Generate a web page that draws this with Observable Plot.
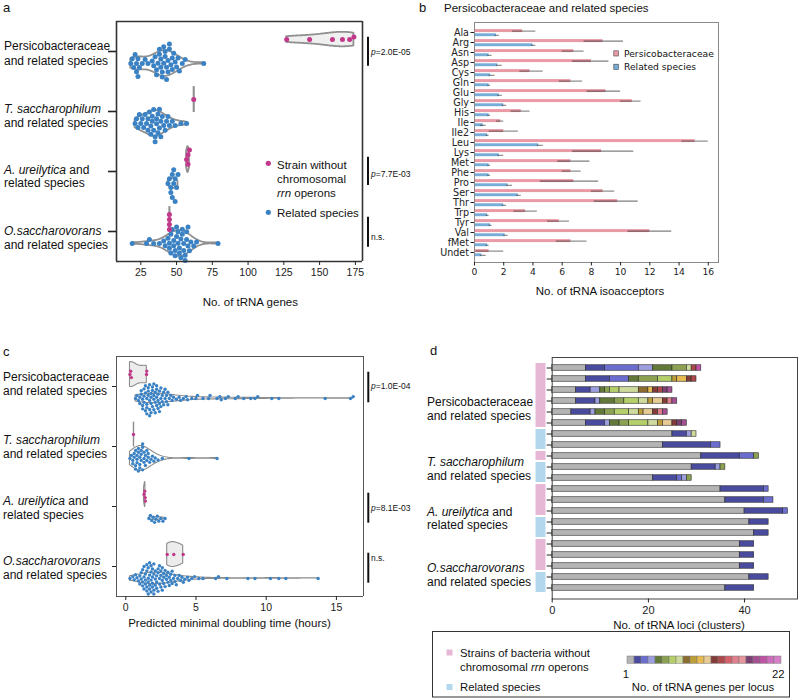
<!DOCTYPE html>
<html>
<head>
<meta charset="utf-8">
<script src="https://cdn.jsdelivr.net/npm/d3@7"></script>
<script src="https://cdn.jsdelivr.net/npm/@observablehq/plot@0.6"></script>
<style>
html,body{margin:0;padding:0;background:#fff;}
#root{position:relative;width:800px;height:698px;overflow:hidden;background:#fff;}
.panel{position:absolute;}
.panel svg{overflow:visible;display:block;}
#ann{position:absolute;left:0;top:0;pointer-events:none;}
#ann text{font-family:"Liberation Sans",Arial,sans-serif;fill:#111;}
</style>
</head>
<body>
<div id="root">
  <div class="panel" id="pa" style="left:0;top:0"></div>
  <div class="panel" id="pb" style="left:400px;top:0"></div>
  <div class="panel" id="pc" style="left:0;top:320px"></div>
  <div class="panel" id="pd" style="left:400px;top:320px"></div>
  <div class="panel" id="pbar" style="left:622.7px;top:656px"></div>
  <svg id="ann" width="800" height="698">
    <text x="3" y="12" font-size="13">a</text>
    <text x="419" y="12" font-size="13">b</text>
    <text x="444" y="11.5" font-size="11.5">Persicobacteraceae and related species</text>
    <text x="3" y="356" font-size="13">c</text>
    <text x="430" y="355" font-size="13">d</text>

    <g font-size="12">
      <text x="4" y="49.5">Persicobacteraceae</text>
      <text x="4" y="64.5">and related species</text>
      <text x="4" y="112.5" font-style="italic">T. saccharophilum</text>
      <text x="4" y="126.5">and related species</text>
      <text x="4" y="173.5"><tspan font-style="italic">A. ureilytica</tspan> and</text>
      <text x="4" y="187">related species</text>
      <text x="4" y="234.5" font-style="italic">O.saccharovorans</text>
      <text x="4" y="248.5">and related species</text>
    </g>
    <g font-size="12">
      <text x="3" y="381">Persicobacteraceae</text>
      <text x="3" y="395">and related species</text>
      <text x="3" y="443.5" font-style="italic">T. saccharophilum</text>
      <text x="3" y="457.5">and related species</text>
      <text x="3" y="504.5"><tspan font-style="italic">A. ureilytica</tspan> and</text>
      <text x="3" y="518.5">related species</text>
      <text x="3" y="565" font-style="italic">O.saccharovorans</text>
      <text x="3" y="579">and related species</text>
    </g>
    <g font-size="12">
      <text x="427" y="405.5">Persicobacteraceae</text>
      <text x="427" y="419.5">and related species</text>
      <text x="427" y="466" font-style="italic">T. saccharophilum</text>
      <text x="427" y="480">and related species</text>
      <text x="427" y="515.5"><tspan font-style="italic">A. ureilytica</tspan> and</text>
      <text x="427" y="529">related species</text>
      <text x="427" y="571.5" font-style="italic">O.saccharovorans</text>
      <text x="427" y="585.5">and related species</text>
    </g>

    <text x="250.3" y="306" font-size="11.5" text-anchor="middle">No. of tRNA genes</text>
    <text x="600" y="295" font-size="11.5" text-anchor="middle">No. of tRNA isoacceptors</text>
    <text x="229.5" y="627" font-size="11.5" text-anchor="middle">Predicted minimal doubling time (hours)</text>
    <text x="679" y="629" font-size="11.5" text-anchor="middle">No. of tRNA loci (clusters)</text>

    <g stroke="#111" stroke-width="2">
      <line x1="368" x2="368" y1="36.7" y2="65.7"/>
      <line x1="368" x2="368" y1="156.7" y2="185"/>
      <line x1="368" x2="368" y1="216.7" y2="246.7"/>
      <line x1="368.3" x2="368.3" y1="371.7" y2="402.3"/>
      <line x1="368.3" x2="368.3" y1="492.7" y2="522.7"/>
      <line x1="368.3" x2="368.3" y1="552.7" y2="582.7"/>
    </g>
    <g font-size="8.5">
      <text x="371" y="55.3"><tspan font-style="italic">p</tspan>=2.0E-05</text>
      <text x="371" y="177"><tspan font-style="italic">p</tspan>=7.7E-03</text>
      <text x="371" y="239.5">n.s.</text>
      <text x="371" y="388.7"><tspan font-style="italic">p</tspan>=1.0E-04</text>
      <text x="371" y="510.7"><tspan font-style="italic">p</tspan>=8.1E-03</text>
      <text x="371" y="561.3">n.s.</text>
    </g>

    <circle cx="268.3" cy="163.3" r="2.6" fill="#c2388a"/>
    <circle cx="268.3" cy="212.3" r="2.6" fill="#3b82c4"/>
    <g font-size="11.5">
      <text x="277" y="169">Strain without</text>
      <text x="277" y="183">chromosomal</text>
      <text x="277" y="197"><tspan font-style="italic">rrn</tspan> operons</text>
      <text x="277" y="217">Related species</text>
    </g>

    <rect x="613.8" y="50.8" width="4.6" height="5.2" fill="#e99aa6" stroke="#444" stroke-width="0.6"/>
    <rect x="613.8" y="64.2" width="4.6" height="5.2" fill="#76acd8" stroke="#444" stroke-width="0.6"/>
    <text x="624" y="56.8" font-size="9.2" style="font-family:'DejaVu Sans'">Persicobacteraceae</text>
    <text x="624" y="70.2" font-size="9.2" style="font-family:'DejaVu Sans'">Related species</text>

    <rect x="432.5" y="631.5" width="357" height="65.5" fill="none" stroke="#333" stroke-width="1"/>
    <rect x="446.5" y="649.5" width="6" height="6" fill="#e6b8d6"/>
    <rect x="446.5" y="684" width="6" height="6" fill="#b3d8ee"/>
    <g font-size="11.3">
      <text x="460" y="657">Strains of bacteria without</text>
      <text x="460" y="671">chromosomal <tspan font-style="italic">rrn</tspan> operons</text>
      <text x="460" y="691">Related species</text>
      <text x="626" y="678" text-anchor="middle">1</text>
      <text x="784.5" y="678" text-anchor="end">22</text>
      <text x="703" y="691" text-anchor="middle">No. of tRNA genes per locus</text>
    </g>
  </svg>
</div>
<script>
// ---------------- data ----------------
const groups = ["Persicobacteraceae", "T. saccharophilum", "A. ureilytica", "O.saccharovorans"];

// Panel a: number of tRNA genes
const tRNAStrainPersico = [127, 143, 159, 166, 171, 174];
const tRNAStrainTsacch = [62];
const tRNAStrainAureil = [57, 58, 59, 58];
const tRNAStrainOsacch = [45, 45, 45, 45];
const tRNARelatedPersico = [18, 19, 20, 21, 22, 22, 23, 23, 24, 26, 28, 30, 33, 34, 35, 36, 36, 37, 38, 38, 39, 39, 40, 40, 41, 41, 42, 42, 43, 43, 44, 44, 45, 45, 46, 47, 47, 48, 49, 50, 51, 52, 54, 56, 69];
const tRNARelatedTsacch = [21, 22, 23, 24, 25, 26, 27, 28, 29, 30, 30, 31, 32, 32, 33, 33, 34, 34, 35, 35, 36, 36, 37, 37, 38, 38, 39, 39, 40, 41, 42, 43, 44, 45, 47, 49, 53, 57];
const tRNARelatedAureil = [44, 45, 46, 46, 47, 47, 48, 48, 49, 49, 50, 51];
const tRNARelatedOsacch = [19, 29, 31, 34, 38, 41, 42, 44, 45, 45, 46, 46, 47, 48, 48, 49, 49, 50, 50, 51, 51, 52, 52, 53, 53, 54, 54, 55, 55, 56, 56, 57, 57, 58, 58, 59, 60, 62, 64, 79];
const tRNATicks = [25, 50, 75, 100, 125, 150, 175];

// Panel c: predicted minimal doubling time (hours)
const dtStrainPersico = [0.3, 0.35, 0.4, 1.48, 1.5];
const dtStrainTsacch = [0.55];
const dtStrainAureil = [1.3, 1.35, 1.38, 1.4];
const dtStrainOsacch = [2.95, 3.42, 4.09];
const dtRelatedPersico = [0.7, 0.8, 0.9, 1.0, 1.0, 1.1, 1.1, 1.2, 1.2, 1.2, 1.3, 1.3, 1.3, 1.4, 1.4, 1.4, 1.5, 1.5, 1.5, 1.5, 1.6, 1.6, 1.6, 1.7, 1.7, 1.7, 1.7, 1.8, 1.8, 1.8, 1.8, 1.9, 1.9, 1.9, 2.0, 2.0, 2.0, 2.0, 2.1, 2.1, 2.1, 2.2, 2.2, 2.2, 2.2, 2.3, 2.3, 2.3, 2.4, 2.4, 2.4, 2.5, 2.5, 2.5, 2.6, 2.6, 2.7, 2.7, 2.8, 2.8, 2.9, 2.9, 3.0, 3.0, 3.1, 3.2, 3.3, 3.4, 3.6, 3.8, 3.9, 4.1, 4.3, 4.4, 4.7, 5.0, 5.1, 5.5, 5.9, 6.0, 6.5, 6.7, 6.8, 7.1, 7.3, 7.8, 8.0, 8.4, 8.9, 9.2, 9.4, 10.4, 10.9, 14.2, 16.0, 16.2];
const dtRelatedTsacch = [0.3, 0.4, 0.5, 0.5, 0.6, 0.6, 0.7, 0.7, 0.7, 0.8, 0.8, 0.8, 0.9, 0.9, 0.9, 1.0, 1.0, 1.0, 1.1, 1.1, 1.1, 1.2, 1.2, 1.2, 1.3, 1.3, 1.3, 1.4, 1.4, 1.5, 1.5, 1.6, 1.6, 1.7, 1.8, 1.9, 2.0, 2.1, 2.3, 2.6, 4.5, 6.5];
const dtRelatedAureil = [1.65, 1.75, 1.85, 1.95, 2.05, 2.15, 2.25, 2.35, 2.5, 2.65, 2.8];
const dtRelatedOsacch = [0.3, 0.5, 0.6, 0.7, 0.8, 0.9, 1.0, 1.0, 1.1, 1.1, 1.2, 1.2, 1.2, 1.3, 1.3, 1.3, 1.4, 1.4, 1.4, 1.5, 1.5, 1.5, 1.5, 1.6, 1.6, 1.6, 1.6, 1.7, 1.7, 1.7, 1.7, 1.8, 1.8, 1.8, 1.8, 1.9, 1.9, 1.9, 1.9, 2.0, 2.0, 2.0, 2.0, 2.1, 2.1, 2.1, 2.2, 2.2, 2.2, 2.3, 2.3, 2.3, 2.4, 2.4, 2.4, 2.5, 2.5, 2.5, 2.6, 2.6, 2.6, 2.7, 2.7, 2.7, 2.8, 2.8, 2.9, 2.9, 3.0, 3.0, 3.1, 3.1, 3.2, 3.2, 3.3, 3.3, 3.4, 3.5, 3.5, 3.6, 3.7, 3.8, 3.9, 4.0, 4.1, 4.2, 4.4, 4.5, 4.7, 4.9, 5.2, 5.5, 6.4, 6.6, 7.2, 8.7, 9.2, 10.3, 10.9, 11.4, 13.7];
const dtTicks = [0, 5, 10, 15];

// Panel b: tRNA isoacceptors
const aminoAcids = ["Ala", "Arg", "Asn", "Asp", "Cys", "Gln", "Glu", "Gly", "His", "Ile", "Ile2", "Leu", "Lys", "Met", "Phe", "Pro", "Ser", "Thr", "Trp", "Tyr", "Val", "fMet", "Undet"];
const persMean = [3.3, 8.8, 6.8, 8.0, 3.8, 6.6, 9.0, 10.8, 3.2, 1.8, 2.0, 15.1, 8.7, 6.6, 6.6, 6.8, 8.8, 9.8, 3.5, 5.8, 12.0, 6.6, 1.0];
const persLo = [2.6, 7.5, 6.0, 6.7, 3.1, 5.8, 7.7, 10.0, 2.5, 1.5, 1.0, 14.2, 6.7, 5.7, 6.0, 4.5, 8.0, 8.2, 2.7, 5.0, 10.5, 5.6, 0.1];
const persHi = [4.2, 10.2, 7.5, 9.2, 4.7, 7.4, 10.0, 11.4, 3.8, 2.0, 3.0, 16.0, 10.9, 7.9, 7.3, 8.5, 9.6, 11.2, 4.3, 6.5, 13.5, 7.7, 2.0];
const relMean = [1.5, 4.0, 1.0, 1.6, 1.1, 1.0, 1.7, 2.0, 1.0, 0.6, 0.9, 4.4, 1.7, 1.0, 1.0, 2.3, 3.0, 2.0, 0.9, 1.1, 2.1, 0.9, 0.5];
const relLo = [1.4, 3.9, 0.9, 1.5, 1.0, 0.9, 1.6, 1.9, 0.9, 0.4, 0.8, 4.3, 1.6, 0.9, 0.9, 2.2, 2.9, 1.9, 0.8, 1.0, 2.0, 0.8, 0.4];
const relHi = [1.7, 4.2, 1.2, 1.9, 1.4, 1.1, 1.9, 2.2, 1.1, 0.8, 1.0, 4.7, 2.0, 1.1, 1.1, 2.6, 3.2, 2.2, 1.0, 1.2, 2.3, 1.0, 0.8];
const isoTicks = [0, 2, 4, 6, 8, 10, 12, 14, 16];

// Panel d: tRNA loci per genome, as [genes per locus, number of loci]
const lociRows = [
  [[1, 7], [2, 4], [3, 7], [4, 3], [5, 4], [6, 3], [8, 1], [14, 1], [20, 1]],
  [[1, 7], [2, 5], [3, 4], [5, 2], [6, 4], [7, 3], [10, 1], [11, 2], [13, 1], [14, 1]],
  [[1, 5], [2, 3], [4, 2], [5, 1], [6, 1], [7, 2], [8, 4], [9, 2], [11, 1], [13, 1], [14, 1], [18, 1], [19, 1]],
  [[1, 5], [2, 4], [4, 1], [5, 3], [6, 2], [7, 3], [8, 2], [10, 1], [12, 2], [13, 1], [16, 1], [19, 1]],
  [[1, 4], [2, 4], [4, 1], [5, 2], [6, 2], [7, 3], [8, 2], [10, 1], [12, 2], [13, 1], [16, 1], [19, 1]],
  [[1, 7], [2, 4], [4, 1], [5, 2], [6, 2], [7, 4], [8, 2], [10, 1], [12, 2], [13, 1], [18, 1], [19, 1]],
  [[1, 25], [2, 3], [4, 1], [8, 1]],
  [[1, 23], [2, 10], [3, 2]],
  [[1, 31], [2, 8], [3, 3], [6, 1]],
  [[1, 29], [2, 5], [4, 1], [6, 1]],
  [[1, 21], [2, 5], [3, 1], [4, 1], [6, 1]],
  [[1, 35], [2, 9], [3, 1]],
  [[1, 36], [2, 8], [3, 2]],
  [[1, 40], [2, 8], [3, 1]],
  [[1, 41], [2, 4]],
  [[1, 42], [2, 3]],
  [[1, 39], [2, 3]],
  [[1, 39], [2, 3]],
  [[1, 39], [2, 3]],
  [[1, 41], [2, 4]],
  [[1, 36], [2, 6]]
];
const lociRowKind = ["s", "s", "s", "s", "s", "s", "r", "r", "s", "r", "r", "s", "s", "s", "r", "r", "s", "s", "s", "r", "r"];
const lociRowGroup = [0, 0, 0, 0, 0, 0, 0, 0, 1, 1, 1, 2, 2, 2, 2, 2, 3, 3, 3, 3, 3];
const lociTicks = [0, 20, 40];
const genesPerLocus = d3.range(1, 23);
const locusColors = ["#b4b4b4", "#4a4b9f", "#6b6ecf", "#9c9ede", "#637939", "#8ca252", "#b5cf6b", "#cedb9c", "#8c6d31", "#bd9e39", "#e7ba52", "#e7cb94", "#843c39", "#ad494a", "#d6616b", "#e0808c", "#e7969c", "#7b4173", "#a55194", "#c052a8", "#ce6dbd", "#d780c8"];

// ---------------- colours ----------------
const dotBlue = "#3b82c4", dotMagenta = "#c2388a";
const barPink = "#e99aa6", barBlue = "#76acd8";
const stripPink = "#e6b8d6", stripBlue = "#b3d8ee";

// ---------------- helpers ----------------
function kde(vals, n = 80) {
  const bw = Math.pow(vals.length, -0.2) * d3.deviation(vals);
  const lo = d3.min(vals), hi = d3.max(vals);
  return d3.range(n + 1).map(i => {
    const x = lo + (hi - lo) * i / n;
    const d = d3.sum(vals, v => Math.exp(-0.5 * ((x - v) / bw) ** 2)) / (vals.length * bw * Math.sqrt(2 * Math.PI));
    return [x, d];
  });
}

function swarmPanel(o) {
  const H = (o.height - o.marginTop - o.marginBottom) / groups.length;
  const yh = H / 2;
  const viol = [], sticks = [];
  groups.forEach((g, gi) => {
    const sets = [{vals: o.strain[gi], off: o.off, kind: "s"}, {vals: o.related[gi], off: -o.off, kind: "r"}];
    const dens = sets.map(s => (s.vals.length > 1 && d3.deviation(s.vals) > 0) ? kde(s.vals) : null);
    const maxD = d3.max(dens.filter(Boolean), d => d3.max(d, p => p[1]));
    sets.forEach((s, k) => {
      if (dens[k]) {
        for (const [x, d] of dens[k]) viol.push({g, id: g + s.kind, kind: s.kind, x, y1: s.off - o.halfW * d / maxD, y2: s.off + o.halfW * d / maxD});
      } else {
        sticks.push({g, kind: s.kind, x: s.vals[0], y1: s.off - o.halfW, y2: s.off + o.halfW});
      }
    });
  });
  const strainDots = groups.flatMap((g, gi) => o.strain[gi].slice().sort(d3.ascending).map(v => ({g, v})));
  const relDots = groups.flatMap((g, gi) => o.related[gi].slice().sort(d3.ascending).map(v => ({g, v})));
  return Plot.plot({
    width: o.width, height: o.height,
    marginLeft: o.marginLeft, marginRight: o.marginRight, marginTop: o.marginTop, marginBottom: o.marginBottom,
    style: {fontFamily: "Liberation Sans, Arial, sans-serif", fontSize: o.tickFont + "px", color: "#222", background: "transparent", overflow: "visible"},
    x: {domain: o.xDomain},
    y: {domain: [-yh, yh], axis: null},
    fy: {domain: groups, padding: 0},
    marks: [
      Plot.areaY(viol.filter(d => d.kind === "r"), {x: "x", y1: "y1", y2: "y2", z: "id", fy: "g", fill: o.relatedFill, stroke: o.violStroke, strokeWidth: o.violW}),
      Plot.areaY(viol.filter(d => d.kind === "s"), {x: "x", y1: "y1", y2: "y2", z: "id", fy: "g", fill: o.strainFill, stroke: o.violStroke, strokeWidth: o.violW}),
      Plot.ruleX(sticks, {x: "x", y1: "y1", y2: "y2", fy: "g", stroke: o.violStroke, strokeWidth: o.violW + 0.3}),
      Plot.dot(relDots, Plot.dodgeY({anchor: "middle", padding: 0, x: "v", fy: "g", r: o.r, fill: dotBlue, dy: o.off})),
      Plot.dot(strainDots, Plot.dodgeY({anchor: "middle", padding: 0, x: "v", fy: "g", r: o.r, fill: dotMagenta, dy: -o.off})),
      Plot.ruleX(o.xDomain, {stroke: o.frameStroke, strokeWidth: o.frameW}),
      Plot.ruleY([{g: groups[0], y: yh}], {fy: "g", y: "y", stroke: o.frameStroke, strokeWidth: o.frameW}),
      Plot.ruleY([{g: groups[groups.length - 1], y: -yh}], {fy: "g", y: "y", stroke: o.frameStroke, strokeWidth: o.frameW}),
      Plot.axisFy({anchor: "left", tickSize: o.fyTick, tickFormat: () => "", label: null, strokeWidth: o.fyTickW, stroke: "#222"}),
      Plot.axisX({ticks: o.ticks, tickSize: 4, label: null, fontSize: o.tickFont, tickPadding: 3})
    ]
  });
}

// ---------------- panel a ----------------
document.getElementById("pa").appendChild(swarmPanel({
  width: 400, height: 320, marginLeft: 116, marginRight: 38, marginTop: 20, marginBottom: 59,
  xDomain: [8, 180], ticks: tRNATicks, tickFont: 10.5,
  strain: [tRNAStrainPersico, tRNAStrainTsacch, tRNAStrainAureil, tRNAStrainOsacch],
  related: [tRNARelatedPersico, tRNARelatedTsacch, tRNARelatedAureil, tRNARelatedOsacch],
  off: 12, halfW: 13, r: 2.5, violStroke: "#909090", violW: 1.8, strainFill: "#f0f0f0", relatedFill: "none",
  frameStroke: "#333", frameW: 1.6, fyTick: 8, fyTickW: 1.6
}));

// ---------------- panel c ----------------
document.getElementById("pc").appendChild(swarmPanel({
  width: 400, height: 320, marginLeft: 116, marginRight: 37, marginTop: 35, marginBottom: 44,
  xDomain: [-0.66, 16.93], ticks: dtTicks, tickFont: 10.5,
  strain: [dtStrainPersico, dtStrainTsacch, dtStrainAureil, dtStrainOsacch],
  related: [dtRelatedPersico, dtRelatedTsacch, dtRelatedAureil, dtRelatedOsacch],
  off: 12, halfW: 12.5, r: 1.7, violStroke: "#8c8c8c", violW: 1.1, strainFill: "#ececec", relatedFill: "none",
  frameStroke: "#555", frameW: 1, fyTick: 4, fyTickW: 1
}));

// ---------------- panel b ----------------
const bRows = aminoAcids.map((aa, i) => ({aa, pm: persMean[i], plo: persLo[i], phi: persHi[i], rm: relMean[i], rlo: relLo[i], rhi: relHi[i]}));
document.getElementById("pb").appendChild(Plot.plot({
  width: 400, height: 320, marginLeft: 74, marginRight: 82, marginTop: 22, marginBottom: 58,
  style: {fontFamily: "DejaVu Sans, sans-serif", fontSize: "9px", color: "#222", background: "transparent", overflow: "visible"},
  x: {domain: [0, 16.7]},
  y: {domain: aminoAcids, padding: 0},
  marks: [
    Plot.barX(bRows, {y: "aa", x: "pm", fill: barPink, insetTop: 2.1, insetBottom: 4.9}),
    Plot.barX(bRows, {y: "aa", x: "rm", fill: barBlue, insetTop: 6.3, insetBottom: 0.8}),
    Plot.ruleY(bRows, {y: "aa", x1: "plo", x2: "phi", dy: -1.4, stroke: "#2a2a2a", strokeOpacity: 0.6, strokeWidth: 1.1}),
    Plot.ruleY(bRows, {y: "aa", x1: "rlo", x2: "rhi", dy: 2.8, stroke: "#2a2a2a", strokeOpacity: 0.6, strokeWidth: 1.1}),
    Plot.frame({stroke: "#8a8a8a", strokeWidth: 1}),
    Plot.axisX({ticks: isoTicks, tickSize: 3.5, label: null, fontSize: 9.2, tickPadding: 2}),
    Plot.axisY({tickSize: 3.5, label: null, fontSize: 9.6, tickPadding: 2})
  ]
}));

// ---------------- panel d ----------------
const lociSegs = lociRows.flatMap((segs, ri) => segs.map(([k, n]) => ({row: ri + 1, k, n})));
const lociRowInfo = lociRowKind.map((kind, i) => ({
  row: i + 1, kind,
  first: i === 0 || lociRowKind[i - 1] !== kind || lociRowGroup[i - 1] !== lociRowGroup[i],
  last: i === lociRowKind.length - 1 || lociRowKind[i + 1] !== kind || lociRowGroup[i + 1] !== lociRowGroup[i]
}));
const lociColor = d3.scaleOrdinal(genesPerLocus, locusColors);
const stripOpts = {x: () => 0, y: "row", dx: -11.7, stroke: d => d.kind === "s" ? stripPink : stripBlue, strokeWidth: 10};
document.getElementById("pd").appendChild(Plot.plot({
  width: 400, height: 320, marginLeft: 151.7, marginRight: 3, marginTop: 37, marginBottom: 41.5,
  style: {fontFamily: "Liberation Sans, Arial, sans-serif", fontSize: "11px", color: "#222", background: "transparent", overflow: "visible"},
  x: {domain: [0, 51]},
  y: {domain: lociRowKind.map((_, i) => i + 1), padding: 0},
  marks: [
    Plot.barX(lociSegs, Plot.stackX({y: "row", x: "n", fill: d => lociColor(d.k), stroke: "#2a2a2a", strokeWidth: 0.6, insetTop: 2.75, insetBottom: 2.75})),
    Plot.tickX(lociRowInfo.filter(d => !d.first && !d.last), stripOpts),
    Plot.tickX(lociRowInfo.filter(d => d.first && !d.last), {...stripOpts, insetTop: 1}),
    Plot.tickX(lociRowInfo.filter(d => !d.first && d.last), {...stripOpts, insetBottom: 1}),
    Plot.tickX(lociRowInfo.filter(d => d.first && d.last), {...stripOpts, insetTop: 1, insetBottom: 1}),
    Plot.frame({stroke: "#444", strokeWidth: 1}),
    Plot.axisY({tickSize: 5, tickFormat: () => "", label: null, stroke: "#222"}),
    Plot.axisX({ticks: lociTicks, tickSize: 4, label: null, fontSize: 11, tickPadding: 3})
  ]
}));

// ---------------- colour bar legend (panel d) ----------------
document.getElementById("pbar").appendChild(Plot.plot({
  width: 161.6, height: 7.3, margin: 0,
  style: {background: "transparent", overflow: "visible"},
  x: {type: "band", domain: genesPerLocus, padding: 0, axis: null},
  marks: [
    Plot.cell(genesPerLocus, {x: d => d, fill: d => lociColor(d), stroke: "#777", strokeWidth: 0.5})
  ]
}));
</script>
</body>
</html>
